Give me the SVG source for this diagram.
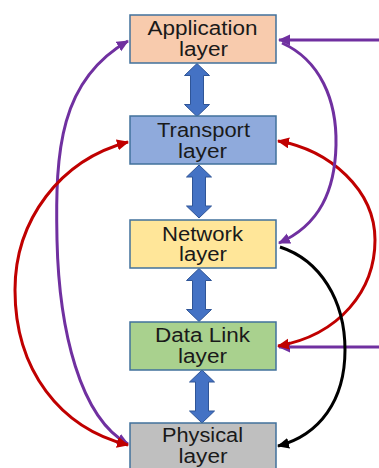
<svg xmlns="http://www.w3.org/2000/svg" width="379" height="468" viewBox="0 0 379 468">
<style>
.box{stroke:#41719C;stroke-width:1.5}
.lbl{font-family:"Liberation Sans",Arial,sans-serif;font-size:19.5px;fill:#1a1a1a;text-anchor:middle}
.dbl{fill:#4472C4;stroke:#2F5597;stroke-width:1}
.c{fill:none;stroke-width:3}
.pur{stroke:#7030A0}
.red{stroke:#C00000}
.blk{stroke:#000000}
</style>
<defs>
<path id="darrow" d="M0,0 L12.5,12 L6.5,12 L6.5,41 L12.5,41 L0,53 L-12.5,41 L-6.5,41 L-6.5,12 L-12.5,12 Z"/>
<marker id="mp" markerUnits="userSpaceOnUse" markerWidth="13" markerHeight="12" refX="11" refY="5.5" orient="auto-start-reverse"><path d="M0,0 L12,5.5 L0,11 Z" fill="#7030A0"/></marker>
<marker id="mr" markerUnits="userSpaceOnUse" markerWidth="13" markerHeight="12" refX="11" refY="5.5" orient="auto-start-reverse"><path d="M0,0 L12,5.5 L0,11 Z" fill="#C00000"/></marker>
<marker id="mb" markerUnits="userSpaceOnUse" markerWidth="13" markerHeight="12" refX="11" refY="5.5" orient="auto-start-reverse"><path d="M0,0 L12,5.5 L0,11 Z" fill="#000000"/></marker>
</defs>
<g id="connectors">
<use href="#darrow" class="dbl" transform="translate(197,63.5)"/>
<use href="#darrow" class="dbl" transform="translate(199,165)"/>
<use href="#darrow" class="dbl" transform="translate(199,268.5)"/>
<use href="#darrow" class="dbl" transform="translate(202,370)"/>
<path class="c pur" d="M379,40 L279,40" marker-end="url(#mp)"/>
<path class="c pur" d="M379,347 L279,347" marker-end="url(#mp)"/>
<path class="c pur" d="M128,41 C60,80 55,150 57,240 C59,330 80,418 128,444" marker-start="url(#mp)" marker-end="url(#mp)"/>
<path class="c red" d="M128,142 C60,160 15,220 15,290 C15,370 60,428 128,445" marker-start="url(#mr)" marker-end="url(#mr)"/>
<path class="c red" d="M278,141 C330,150 375,190 375,240 C375,290 340,335 278,346" marker-start="url(#mr)" marker-end="url(#mr)"/>
<path class="c blk" d="M280,247 C320,260 345,300 345,350 C345,400 320,435 278,446" marker-end="url(#mb)"/>
<path class="c pur" d="M282,43 C320,60 337,100 336,145 C335,190 320,225 279,243" marker-end="url(#mp)"/>
</g>
<g id="application">
<rect class="box" x="130" y="15" width="146" height="48" fill="#F8CBAD"/>
<text class="lbl" x="202.5" y="35" textLength="110" lengthAdjust="spacingAndGlyphs">Application</text>
<text class="lbl" x="203.5" y="55.5" textLength="49" lengthAdjust="spacingAndGlyphs">layer</text>
</g>
<g id="transport">
<rect class="box" x="130" y="116" width="146" height="48" fill="#8FAADC"/>
<text class="lbl" x="203.5" y="137" textLength="93" lengthAdjust="spacingAndGlyphs">Transport</text>
<text class="lbl" x="202.5" y="157.5" textLength="49" lengthAdjust="spacingAndGlyphs">layer</text>
</g>
<g id="network">
<rect class="box" x="130" y="220" width="146" height="48" fill="#FFE699"/>
<text class="lbl" x="202.5" y="240.5" textLength="81" lengthAdjust="spacingAndGlyphs">Network</text>
<text class="lbl" x="203" y="261" textLength="48" lengthAdjust="spacingAndGlyphs">layer</text>
</g>
<g id="datalink">
<rect class="box" x="130" y="322" width="146" height="48" fill="#A9D18E"/>
<text class="lbl" x="202.5" y="342" textLength="95" lengthAdjust="spacingAndGlyphs">Data Link</text>
<text class="lbl" x="202.5" y="363" textLength="49" lengthAdjust="spacingAndGlyphs">layer</text>
</g>
<g id="physical">
<rect class="box" x="130" y="423" width="146" height="50" fill="#BFBFBF"/>
<text class="lbl" x="202.5" y="441.5" textLength="81" lengthAdjust="spacingAndGlyphs">Physical</text>
<text class="lbl" x="203" y="463" textLength="49" lengthAdjust="spacingAndGlyphs">layer</text>
</g>
</svg>
